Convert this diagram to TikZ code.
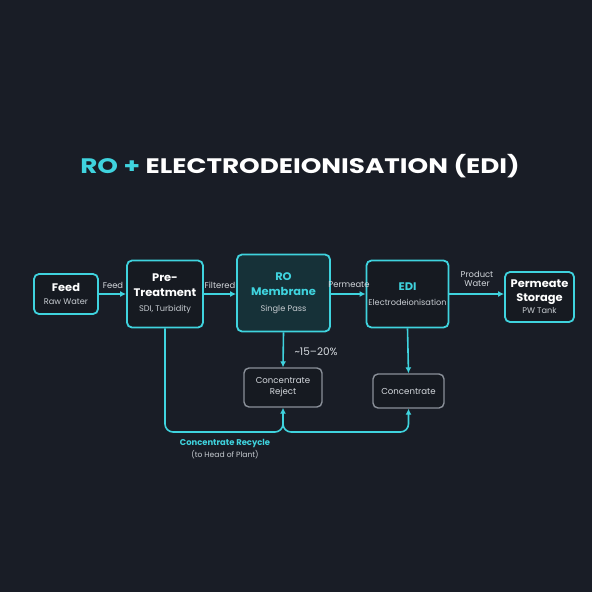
\documentclass[tikz,border=0pt]{standalone}
\usepackage{fontspec}
\setmainfont{Poppins}
\usetikzlibrary{arrows.meta}
\definecolor{bg}{HTML}{191D26}
\definecolor{cy}{HTML}{3FD3DE}
\definecolor{boxfill}{HTML}{161A21}
\definecolor{rofill}{HTML}{163138}
\definecolor{gborder}{HTML}{8A9099}
\definecolor{lbl}{HTML}{D4D8DD}
\definecolor{sub}{HTML}{C8CDD2}
\tikzset{
  mainbox/.style={draw=cy, line width=1.8pt, fill=boxfill, rounded corners=5pt, align=center, inner sep=2pt, font=\fontsize{11}{14.5}\selectfont},
  robox/.style={mainbox, fill=rofill},
  graybox/.style={draw=gborder, line width=1.4pt, fill=boxfill, rounded corners=5pt, align=center, text=lbl, font=\fontsize{8.6}{11}\selectfont},
  flow/.style={draw=cy, line width=1.6pt, -{Latex[length=6pt,width=6pt]}},
  flowline/.style={draw=cy, line width=1.6pt},
  elabel/.style={text=lbl, font=\fontsize{8.4}{10}\selectfont, align=center},
}
\newcommand{\ttl}[1]{{\bfseries\scalebox{1.04}[1]{#1}}}
\newcommand{\subt}[1]{{\fontsize{8.2}{10}\selectfont\color{sub} #1}}
\begin{document}
\begin{tikzpicture}[x=1pt,y=-1pt]
\fill[bg] (0,0) rectangle (592,592);
\useasboundingbox (0,0) rectangle (592,592);
\node[text=white, font=\fontsize{21}{24}\selectfont\bfseries] (title) at (300,166) {\scalebox{1.25}[1]{\textcolor{cy}{RO +} ELECTRODEIONISATION (EDI)}};

\node[mainbox, minimum width=64pt, minimum height=40pt, text=white] (feed) at (66,294) {\ttl{Feed}\\[-1pt]\subt{Raw Water}};
\node[mainbox, minimum width=76pt, minimum height=67pt, text=white] (pre) at (165,294) {\ttl{Pre-}\\\ttl{Treatment}\\[1pt]\subt{SDI, Turbidity}};
\node[robox, minimum width=93pt, minimum height=77pt, text=cy] (ro) at (283.5,293) {\ttl{RO}\\[1pt]\ttl{Membrane}\\[1pt]\subt{Single Pass}};
\node[mainbox, minimum width=81pt, minimum height=67pt, text=cy] (edi) at (407.5,294) {\ttl{EDI}\\[1pt]\subt{Electrodeionisation}};
\node[mainbox, minimum width=69pt, minimum height=50pt, text=white] (ps) at (539.5,297) {\ttl{Permeate}\\[-1pt]\ttl{Storage}\\[-2pt]\subt{PW Tank}};

\node[graybox, minimum width=78pt, minimum height=39pt] (rej) at (283,387.5) {Concentrate\\Reject};
\node[graybox, minimum width=71pt, minimum height=34pt] (conc) at (408.5,391) {Concentrate};

\draw[flow] (feed.east) -- (pre.west |- feed.east);
\draw[flow] (pre.east) -- (ro.west |- pre.east);
\draw[flow] (ro.east |- edi.west) -- (edi.west);
\draw[flow] (edi.east) -- (ps.west |- edi.east);

\node[elabel] (lfeed) at (113,285) {Feed};
\node[elabel] (lfilt) at (220,285) {Filtered};
\node[elabel] (lperm) at (349,285) {Permeate};
\node[elabel] (lprod) at (477,279) {Product\\[-1pt]Water};

\draw[flow] (ro.south) -- (rej.north);
\node[text=lbl, font=\fontsize{10.5}{12}\selectfont, anchor=west] (pct) at (291,352) {\textasciitilde15--20\%};
\draw[flow] (edi.south) -- (conc.north);

\coordinate (j) at (283,432);
\coordinate (jup) at (283,420);
\draw[flowline, rounded corners=8pt] (pre.south) |- (j) -- (jup);
\draw[flow] (jup) -- (rej.south);
\draw[flow, rounded corners=8pt] (jup) -- (j) -| (conc.south);

\node[text=cy, font=\fontsize{8.4}{10}\selectfont\bfseries] (crl) at (225,443) {Concentrate Recycle};
\node[text=sub, font=\fontsize{7.6}{9}\selectfont] (crl2) at (225,455) {(to Head of Plant)};
\end{tikzpicture}
\end{document}
